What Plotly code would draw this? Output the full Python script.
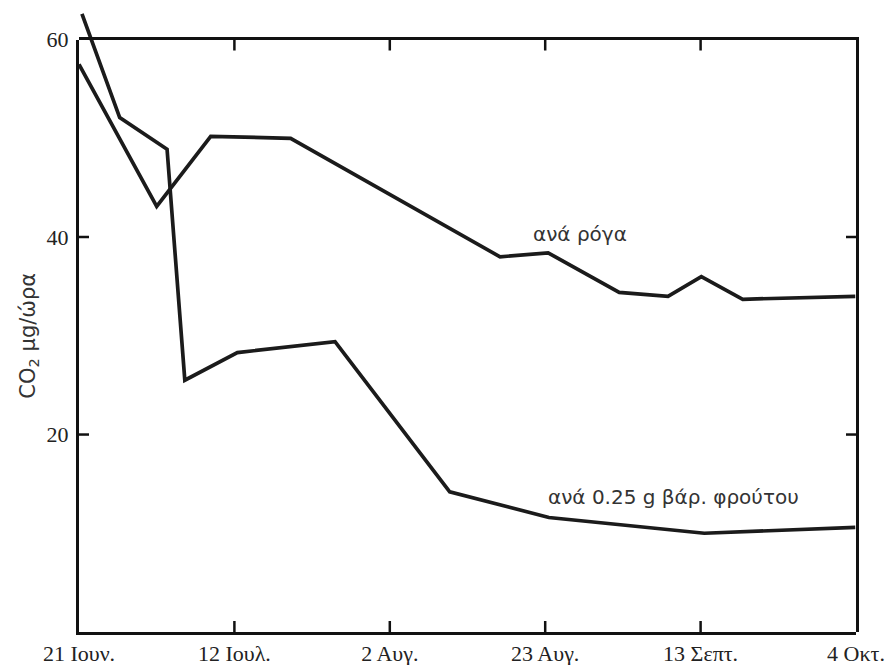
import plotly.graph_objects as go

# days since 21 June
tick_days = [0, 21, 42, 63, 84, 105]
tick_labels = ["21 Ιουν.", "12 Ιουλ.", "2 Αυγ.", "23 Αυγ.", "13 Σεπτ.", "4 Οκτ."]
y_ticks = [20, 40, 60]

per_berry_days = [0, 10.5, 17.8, 28.6, 56.9, 63.4, 73.0, 79.6, 84.1, 89.7, 104.9]
per_berry_vals = [57.5, 43.1, 50.2, 50.0, 38.0, 38.4, 34.4, 34.0, 36.0, 33.7, 34.0]

per_weight_days = [0.4, 5.5, 11.9, 14.3, 21.4, 34.6, 50.1, 63.5, 84.5, 104.9]
per_weight_vals = [62.6, 52.1, 48.9, 25.5, 28.3, 29.4, 14.2, 11.6, 10.0, 10.6]

label_berry = "ανά ρόγα"
label_weight = "ανά 0.25 g βάρ. φρούτου"

Y_TOP = 63.2
X_MAX = 105
Y_FRAME = 60

line_col = "#1b1b1b"
fig = go.Figure()
fig.add_trace(go.Scatter(x=per_berry_days, y=per_berry_vals, mode="lines",
                         line=dict(color=line_col, width=3.7), xaxis="x", yaxis="y",
                         showlegend=False, hoverinfo="skip"))
fig.add_trace(go.Scatter(x=per_weight_days, y=per_weight_vals, mode="lines",
                         line=dict(color=line_col, width=3.7), xaxis="x", yaxis="y",
                         showlegend=False, hoverinfo="skip"))
# frame subplot carriers (no visible data)
for xa, ya in (("x2", "y2"), ("x3", "y3")):
    fig.add_trace(go.Scatter(x=[None], y=[None], xaxis=xa, yaxis=ya,
                             showlegend=False, hoverinfo="skip"))

tick_font = dict(family="Liberation Serif", size=22, color="#222")
ann_font = dict(family="DejaVu Sans", size=20, color="#333")
frame = dict(showline=True, linecolor="#111", linewidth=3, ticks="",
             showgrid=False, zeroline=False, fixedrange=True, automargin=False)
ydom = [0, Y_FRAME / Y_TOP]

# inward tick marks on all four sides, positioned from the tick arrays
tick_style = dict(color="#111", width=2.5)
shapes = []
for d in tick_days[1:-1]:
    shapes.append(dict(type="line", xref="x2", yref="y2", x0=d, x1=d,
                       ysizemode="pixel", yanchor=0, y0=0, y1=11,
                       line=tick_style, layer="above"))
    shapes.append(dict(type="line", xref="x2", yref="y2", x0=d, x1=d,
                       ysizemode="pixel", yanchor=Y_FRAME, y0=0, y1=-11,
                       line=tick_style, layer="above"))
for v in y_ticks:
    if v >= Y_FRAME:
        continue
    shapes.append(dict(type="line", xref="x2", yref="y2", y0=v, y1=v,
                       xsizemode="pixel", xanchor=0, x0=0, x1=10,
                       line=tick_style, layer="above"))
    shapes.append(dict(type="line", xref="x2", yref="y2", y0=v, y1=v,
                       xsizemode="pixel", xanchor=X_MAX, x0=0, x1=-10,
                       line=tick_style, layer="above"))

fig.update_layout(
    template="none",
    width=886, height=657,
    margin=dict(l=71, r=38, t=0, b=33, autoexpand=False),
    paper_bgcolor="white", plot_bgcolor="rgba(0,0,0,0)",
    xaxis=dict(domain=[0, 1], range=[0, X_MAX], visible=False, fixedrange=True,
               anchor="y", automargin=False),
    yaxis=dict(domain=[0, 1], range=[0, Y_TOP], visible=False, fixedrange=True,
               anchor="x", automargin=False),
    # bottom + left
    xaxis2=dict(frame, domain=[0, 1], range=[0, X_MAX], anchor="y2", side="bottom",
                tickvals=tick_days, ticktext=tick_labels, tickfont=tick_font),
    yaxis2=dict(frame, domain=ydom, range=[0, Y_FRAME], anchor="x2", side="left",
                tickvals=y_ticks, tickfont=tick_font, ticklabelstandoff=3,
                title=dict(text="CO<sub>2</sub> μg/ώρα",
                           font=dict(family="DejaVu Sans", size=21, color="#333"),
                           standoff=6)),
    # top + right
    xaxis3=dict(frame, domain=[0, 1], range=[0, X_MAX], anchor="y3", side="top",
                tickvals=tick_days, showticklabels=False),
    yaxis3=dict(frame, domain=ydom, range=[0, Y_FRAME], anchor="x3", side="right",
                tickvals=y_ticks, showticklabels=False),
    shapes=shapes,
    annotations=[
        dict(x=67.7, y=40.3, xref="x", yref="y", text=label_berry, showarrow=False,
             font=ann_font),
        dict(x=80.3, y=13.7, xref="x", yref="y", text=label_weight, showarrow=False,
             font=ann_font),
    ],
)
fig.write_html("out.html")
